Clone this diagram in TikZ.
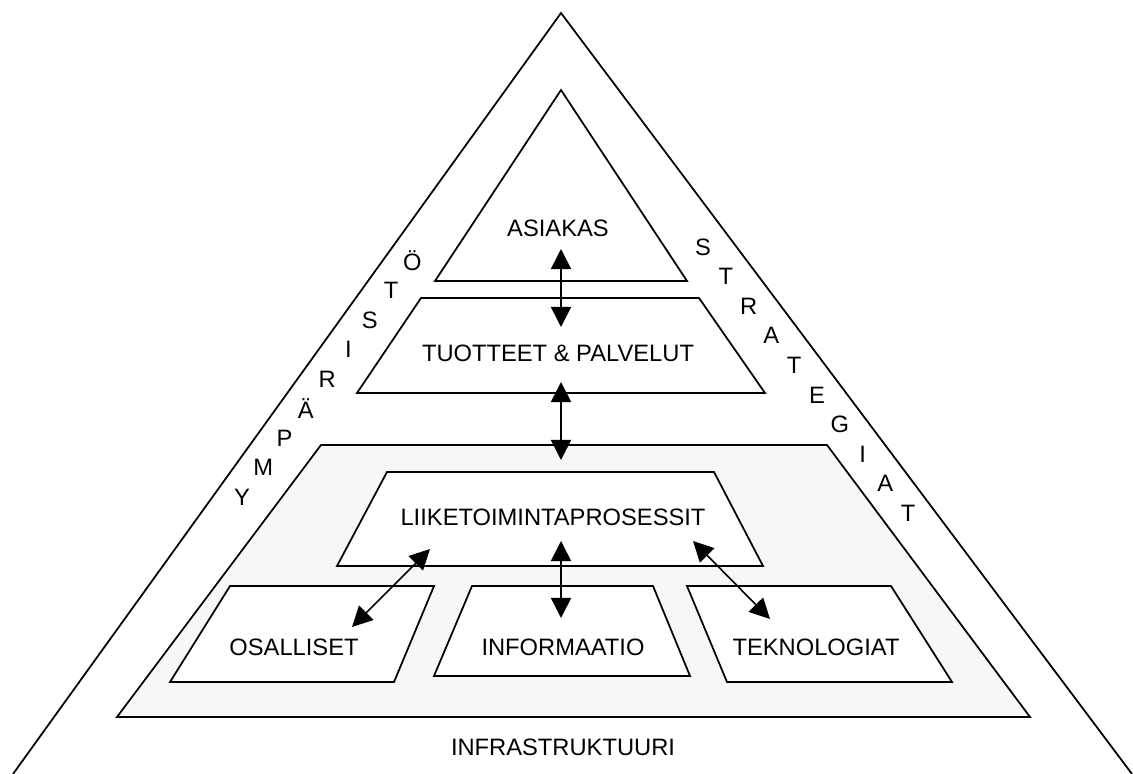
\documentclass[tikz,border=0pt]{standalone}
\usepackage{fontspec}
\setmainfont{Liberation Sans}
\usetikzlibrary{arrows.meta}
\definecolor{infragray}{RGB}{247,247,247}
\tikzset{
    slab/.style={draw, line width=1pt, line join=miter},
    word/.style={font=\fontsize{13.5}{15}\selectfont, inner sep=0pt},
    twoway/.style={{Triangle[length=11.5pt,width=11.5pt]}-{Triangle[length=11.5pt,width=11.5pt]}, line width=0.9pt},
}
\begin{document}
\begin{tikzpicture}[x=0.02cm, y=-0.02cm]
    \useasboundingbox (0,0) rectangle (1133,774);
    % outer triangle with the side words
    \draw[slab] (13,774) -- (561,13) -- (1132,774);
    \foreach \l [count=\i from 0] in {Y,M,P,Ä,R,I,S,T,Ö}
        \node[word] (ymp\i) at (242+21.3*\i,497-29.5*\i) {\l};
    \foreach \l [count=\i from 0] in {S,T,R,A,T,E,G,I,A,T}
        \node[word] (str\i) at (703+22.8*\i,247+29.6*\i) {\l};
    % customer
    \draw[slab] (561,90) -- (687,281) -- (435,281) -- cycle;
    \node[word] (asiakas) at (558,228) {ASIAKAS};
    % products and services
    \draw[slab] (421,298) -- (699,298) -- (765,393) -- (357,393) -- cycle;
    \node[word] (tuotteet) at (558,353) {TUOTTEET \& PALVELUT};
    % infrastructure
    \draw[slab, fill=infragray] (321,445) -- (827,445) -- (1030,717) -- (117,717) -- cycle;
    \node[word] (infra) at (563,747) {INFRASTRUKTUURI};
    \draw[slab, fill=white] (387,472) -- (714,472) -- (763,566) -- (337,566) -- cycle;
    \node[word] (prosessit) at (553,517) {LIIKETOIMINTAPROSESSIT};
    \draw[slab, fill=white] (230,586) -- (434,586) -- (394,682) -- (170,682) -- cycle;
    \node[word] (osalliset) at (294,647) {OSALLISET};
    \draw[slab, fill=white] (472,586) -- (653,586) -- (690,676) -- (434,676) -- cycle;
    \node[word] (informaatio) at (563,647) {INFORMAATIO};
    \draw[slab, fill=white] (687,586) -- (891,586) -- (952,682) -- (727,682) -- cycle;
    \node[word] (teknologiat) at (816,647) {TEKNOLOGIAT};
    % arrow ends
    \coordinate (asiakasin) at (561,249);
    \coordinate (tuotteettop) at (561,327);
    \coordinate (tuotteetbot) at (561,382);
    \coordinate (infratop) at (561,460);
    \coordinate (prosmid) at (561,541);
    \coordinate (infomid) at (561,618);
    \coordinate (prosleft) at (430,549);
    \coordinate (osalin) at (352,627);
    \coordinate (prosright) at (693,541);
    \coordinate (teknoin) at (770,619);
    \draw[twoway] (asiakasin) -- (tuotteettop);
    \draw[twoway] (tuotteetbot) -- (infratop);
    \draw[twoway] (prosmid) -- (infomid);
    \draw[twoway] (prosleft) -- (osalin);
    \draw[twoway] (prosright) -- (teknoin);
\end{tikzpicture}
\end{document}
